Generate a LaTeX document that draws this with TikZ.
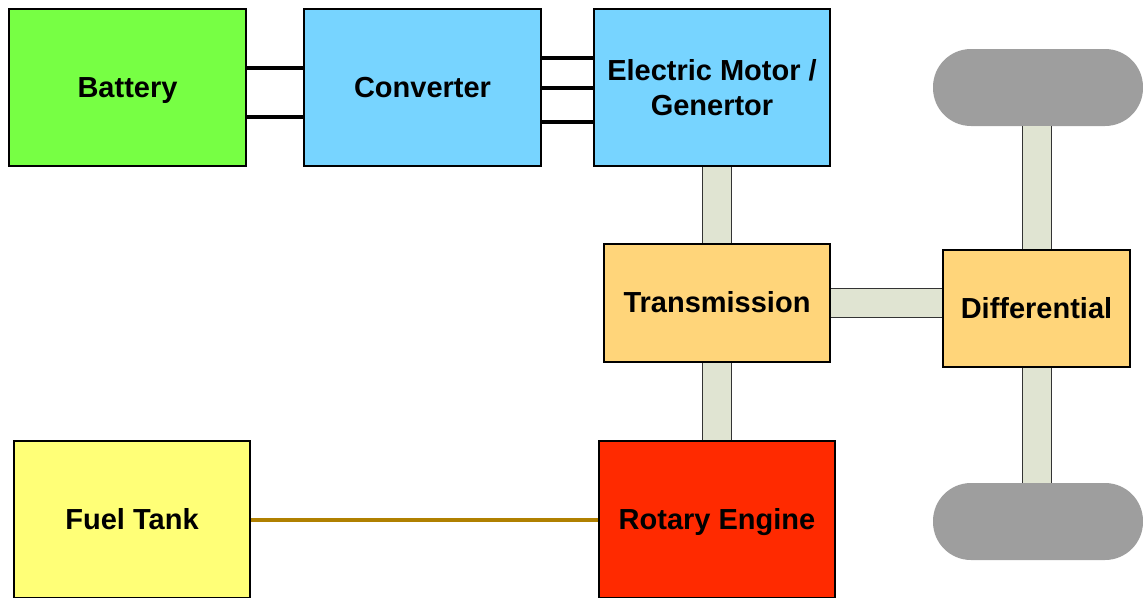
\documentclass[tikz,border=0pt]{standalone}
\usepackage{fontspec}
\setmainfont{Liberation Sans}
\usepackage{tikz}
\usepackage{xcolor}

\definecolor{battgreen}{RGB}{119,255,68}
\definecolor{convblue}{RGB}{119,212,255}
\definecolor{gearorange}{RGB}{255,213,122}
\definecolor{fuelyellow}{RGB}{255,255,119}
\definecolor{enginered}{RGB}{255,42,0}
\definecolor{wheelgrey}{RGB}{158,158,158}
\definecolor{shaftfill}{RGB}{224,228,210}
\definecolor{fuelline}{RGB}{176,128,0}

\begin{document}
\begin{tikzpicture}[x=1pt, y=-1pt,
    every node/.style = {shape=rectangle, align=center, inner sep=0pt,
      font=\fontsize{29}{35}\selectfont\bfseries},
    block/.style = {draw, line width=2pt},
    oneline/.style = {text height=23pt, text depth=4pt},
    wheel/.style = {fill=wheelgrey, rounded corners=38pt,
      minimum width=210pt, minimum height=77pt},
    wire/.style = {line width=4pt},
    shaft/.style = {draw=black!80, line width=1pt,
      double=shaftfill, double distance=28pt},
    fuelpipe/.style = {draw=fuelline, line width=4pt}]
    \useasboundingbox (0,0) rectangle (1143,597);
    % blocks
    \node[block, oneline, fill=battgreen, minimum width=237pt, minimum height=157pt]
      (batt) at (127.5,87.5) {Battery};
    \node[block, oneline, fill=convblue, minimum width=237pt, minimum height=157pt]
      (conv) at (422.5,87.5) {Converter};
    \node[block, fill=convblue, minimum width=236pt, minimum height=157pt]
      (motor) at (712,87.5) {Electric Motor /\\Genertor};
    \node[block, oneline, fill=gearorange, minimum width=226pt, minimum height=118pt]
      (trans) at (717,303) {Transmission};
    \node[block, oneline, fill=gearorange, minimum width=187pt, minimum height=117pt]
      (diff) at (1036.5,308.5) {Differential};
    \node[block, oneline, fill=fuelyellow, minimum width=236pt, minimum height=157pt]
      (fuel) at (132,519.5) {Fuel Tank};
    \node[block, oneline, fill=enginered, minimum width=236pt, minimum height=157pt]
      (engine) at (717,519.5) {Rotary Engine};
    % wheels
    \node[wheel] (wheelA) at (1038,87.5) {};
    \node[wheel] (wheelB) at (1038,521.5) {};
    % wires
    \draw[wire] ([yshift=19.5pt]batt.east) -- ([yshift=19.5pt]conv.west);
    \draw[wire] ([yshift=-29.5pt]batt.east) -- ([yshift=-29.5pt]conv.west);
    \draw[wire] ([yshift=29.5pt]conv.east) -- ([yshift=29.5pt]motor.west);
    \draw[wire] ([yshift=-0.5pt]conv.east) -- ([yshift=-0.5pt]motor.west);
    \draw[wire] ([yshift=-34.5pt]conv.east) -- ([yshift=-34.5pt]motor.west);
    % shafts
    \draw[shaft] (trans.north |- motor.south) -- (trans.north);
    \draw[shaft] (trans.south) -- (trans.south |- engine.north);
    \draw[shaft] (trans.east) -- (trans.east -| diff.west);
    \draw[shaft] (diff.north) -- (diff.north |- wheelA.south);
    \draw[shaft] (diff.south) -- (diff.south |- wheelB.north);
    % fuel
    \draw[fuelpipe] (fuel.east) -- (engine.west);
\end{tikzpicture}
\end{document}
